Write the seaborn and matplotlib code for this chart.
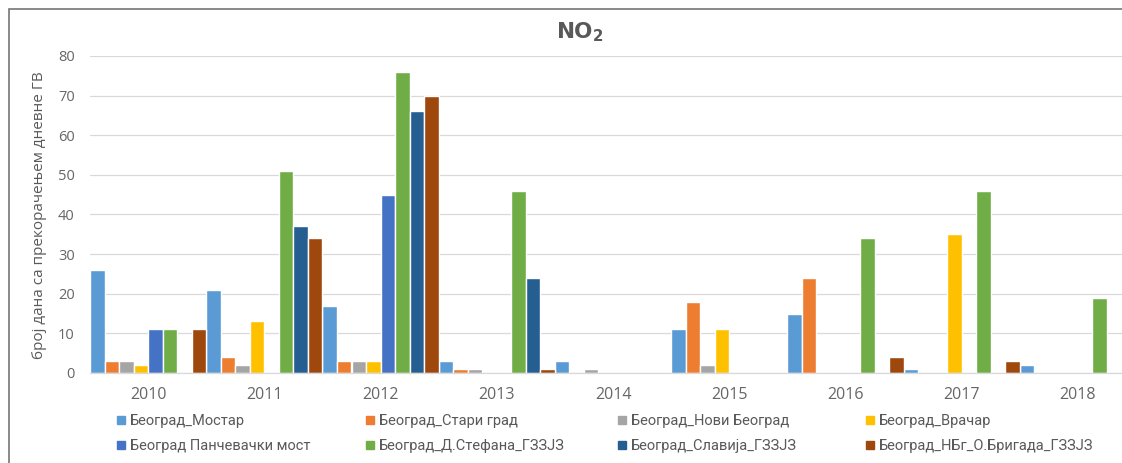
import numpy as np
import pandas as pd
import seaborn as sns
import matplotlib
matplotlib.use("Agg")
import matplotlib.pyplot as plt
from matplotlib.lines import Line2D
from matplotlib.patches import Rectangle
from matplotlib import font_manager

# ---------------- data ----------------
years = ["2010", "2011", "2012", "2013", "2014", "2015", "2016", "2017", "2018"]
stations = [
    "Београд_Мостар",
    "Београд_Стари град",
    "Београд_Нови Београд",
    "Београд_Врачар",
    "Београд Панчевачки мост",
    "Београд_Д.Стефана_ГЗЗЈЗ",
    "Београд_Славија_ГЗЗЈЗ",
    "Београд_НБг_О.Бригада_ГЗЗЈЗ",
]
mostar = [26, 21, 17, 3, 3, 11, 15, 1, 2]
stari_grad = [3, 4, 3, 1, 0, 18, 24, 0, 0]
novi_beograd = [3, 2, 3, 1, 1, 2, 0, 0, 0]
vracar = [2, 13, 3, 0, 0, 11, 0, 35, 0]
pancevacki = [11, 0, 45, 0, 0, 0, 0, 0, 0]
d_stefana = [11, 51, 76, 46, 0, 0, 34, 46, 19]
slavija = [0, 37, 66, 24, 0, 0, 0, 0, 0]
nbg_brigada = [11, 34, 70, 1, 0, 0, 4, 3, 0]
series_values = [mostar, stari_grad, novi_beograd, vracar,
                 pancevacki, d_stefana, slavija, nbg_brigada]
colors = ["#5B9BD5", "#ED7D31", "#A5A5A5", "#FFC000",
          "#4472C4", "#70AD47", "#255E91", "#9E480E"]
y_ticks = [0, 10, 20, 30, 40, 50, 60, 70, 80]
title_text = r"$\mathbf{NO_2}$"
y_label = "број дана са прекорачењем дневне ГВ"

rows = []
for st, vals in zip(stations, series_values):
    for yr, v in zip(years, vals):
        rows.append({"year": yr, "station": st, "value": v})
df = pd.DataFrame(rows)

# ---------------- style ----------------
sns.set_theme(style="white")
avail = {f.name for f in font_manager.fontManager.ttflist}
base_font = "Open Sans" if "Open Sans" in avail else "DejaVu Sans"
if "Liberation Sans Narrow" in avail:
    legend_font = "Liberation Sans Narrow"
elif "Roboto" in avail:
    legend_font = "Roboto"
else:
    legend_font = base_font
plt.rcParams["font.family"] = [base_font, "DejaVu Sans"]
text_color = "#595959"
grid_color = "#D9D9D9"

W, H = 1122, 463
fig = plt.figure(figsize=(W / 100, H / 100), dpi=100)
ax = fig.add_axes([90 / W, (H - 373) / H, 1046 / W, (373 - 56) / H])

sns.barplot(data=df, x="year", y="value", hue="station", order=years,
            hue_order=stations, palette=colors, width=1.0, dodge=True,
            edgecolor="white", linewidth=1.0, saturation=1, ax=ax,
            legend=False, errorbar=None)

ax.set_xlim(-0.5, len(years) - 0.5)
ax.set_ylim(0, 80)
ax.set_yticks(y_ticks)
ax.set_axisbelow(True)
ax.yaxis.grid(True, color=grid_color, linewidth=0.9)
ax.xaxis.grid(False)
for s in ["top", "right", "left"]:
    ax.spines[s].set_visible(False)
ax.spines["bottom"].set_color(grid_color)
ax.spines["bottom"].set_linewidth(0.9)
ax.spines["bottom"].set_zorder(5)
ax.tick_params(axis="y", length=0, pad=11, labelsize=10.5, labelcolor="#666666")
ax.tick_params(axis="x", length=0, pad=10, labelsize=11.5, labelcolor="#666666")
ax.set_xlabel("")
ax.set_ylabel("")

fig.text(580 / W, 1 - 32 / H, title_text, ha="center", va="center",
         fontsize=15.5, color=text_color)
fig.text(40 / W, 1 - 215 / H, y_label, rotation=90, ha="center", va="center",
         fontsize=11, color=text_color)

# legend: 4 columns x 2 rows
col_x = [117, 366, 618, 866]
for c in range(4):
    idx = [c, c + 4]
    handles = [Line2D([0], [0], marker="s", linestyle="", markersize=6,
                      markerfacecolor=colors[i], markeredgecolor=colors[i])
               for i in idx]
    labels = [stations[i] for i in idx]
    fig.legend(handles, labels, loc="upper left",
               bbox_to_anchor=(col_x[c] / W, 1 - 414 / H),
               frameon=False, ncol=1, handlelength=0.6, handletextpad=0.3,
               labelspacing=0.75, borderpad=0, borderaxespad=0,
               prop={"family": [legend_font, "DejaVu Sans"], "size": 10.5},
               labelcolor=text_color)

# chart border (partially cropped in reference)
fig.add_artist(Rectangle((9 / W, -0.2), 1.5, (H - 9) / H + 0.2,
                         transform=fig.transFigure, fill=False,
                         edgecolor="#767676", linewidth=1.2))

fig.savefig("out.png", dpi=100)
